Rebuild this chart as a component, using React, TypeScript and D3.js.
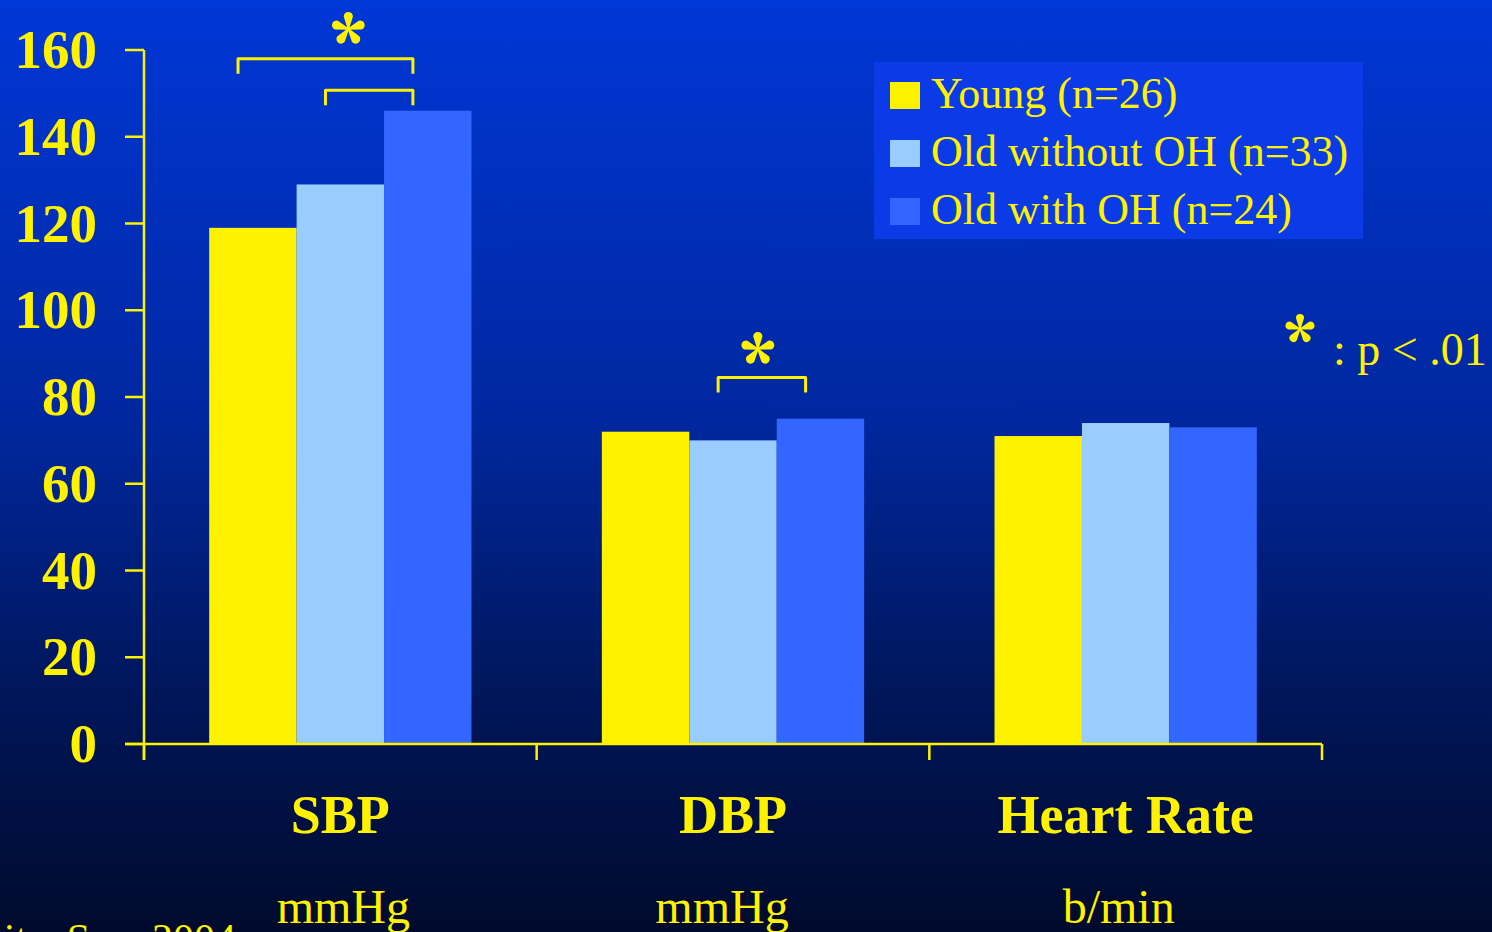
import React, { useEffect, useRef } from "react";
import * as d3 from "d3";

// Haemodynamic values per measure and group
const categories = ["SBP", "DBP", "Heart Rate"];
const units = ["mmHg", "mmHg", "b/min"];
const seriesNames = ["Young (n=26)", "Old without OH (n=33)", "Old with OH (n=24)"];
const young = [119, 72, 71];
const oldWithoutOH = [129, 70, 74];
const oldWithOH = [146, 75, 73];
const yTicks = [0, 20, 40, 60, 80, 100, 120, 140, 160];

// Significance brackets: measure, first group, second group, bracket level (axis units)
const brackets = [
  { cat: "SBP", from: 0, to: 2, level: 158 },
  { cat: "SBP", from: 1, to: 2, level: 150.7 },
  { cat: "DBP", from: 1, to: 2, level: 84.5 },
];

const W = 1492;
const H = 932;
const YELLOW = "#fff200";
const colors = [YELLOW, "#99ccff", "#3366ff"];
const serif = "'Liberation Serif', 'Times New Roman', serif";
const unitNudge = [3, -11, -7];

function starPath(cx: number, cy: number, r: number) {
  // five teardrop petals meeting at the centre
  const petals: string[] = [];
  for (let i = 0; i < 5; i++) {
    const a = (-90 + i * 72) * (Math.PI / 180);
    const pr = r * 0.27;
    const tipR = r - pr;
    const px = cx + Math.cos(a) * tipR;
    const py = cy + Math.sin(a) * tipR;
    const perp = a + Math.PI / 2;
    const w0 = r * 0.04;
    const bx1 = cx + Math.cos(perp) * w0;
    const by1 = cy + Math.sin(perp) * w0;
    const bx2 = cx - Math.cos(perp) * w0;
    const by2 = cy - Math.sin(perp) * w0;
    const sx1 = px + Math.cos(perp) * pr;
    const sy1 = py + Math.sin(perp) * pr;
    const sx2 = px - Math.cos(perp) * pr;
    const sy2 = py - Math.sin(perp) * pr;
    petals.push(
      `M${bx1},${by1} L${sx1},${sy1} A${pr},${pr} 0 1 0 ${sx2},${sy2} L${bx2},${by2} Z`
    );
  }
  return petals.join(" ");
}

export default function App() {
  const ref = useRef<SVGSVGElement>(null);

  useEffect(() => {
    const svg = d3.select(ref.current);
    svg.selectAll("*").remove();

    const defs = svg.append("defs");
    const grad = defs
      .append("linearGradient")
      .attr("id", "bg")
      .attr("x1", 0)
      .attr("y1", 0)
      .attr("x2", 0)
      .attr("y2", 1);
    grad.append("stop").attr("offset", "0%").attr("stop-color", "#0037d6");
    grad.append("stop").attr("offset", "45%").attr("stop-color", "#00279f");
    grad.append("stop").attr("offset", "75%").attr("stop-color", "#001659");
    grad.append("stop").attr("offset", "100%").attr("stop-color", "#000a2c");

    svg.append("rect").attr("width", W).attr("height", H).attr("fill", "url(#bg)");

    const x0 = 144;
    const x1 = 1322;
    const y = d3.scaleLinear().domain([0, 160]).range([744, 50]);
    const x = d3.scaleBand<string>().domain(categories).range([x0, x1]).padding(0);
    const bw = x.bandwidth();
    const inner = d3
      .scaleBand<number>()
      .domain([0, 1, 2])
      .range([bw * 0.166, bw * 0.834])
      .padding(0);

    const seriesValues = [young, oldWithoutOH, oldWithOH];

    // bars
    const g = svg.append("g");
    seriesValues.forEach((vals, si) => {
      g.selectAll(`.bar${si}`)
        .data(vals)
        .enter()
        .append("rect")
        .attr("x", (_d, i) => (x(categories[i]) as number) + (inner(si) as number))
        .attr("y", (d) => y(d))
        .attr("width", inner.bandwidth())
        .attr("height", (d) => y(0) - y(d))
        .attr("fill", colors[si]);
    });

    // axes
    const axis = svg.append("g").attr("stroke", YELLOW).attr("stroke-width", 2.5);
    axis.append("line").attr("x1", x0).attr("x2", x0).attr("y1", y(160)).attr("y2", y(0) + 16);
    axis.append("line").attr("x1", x0 - 19).attr("x2", x1).attr("y1", y(0)).attr("y2", y(0));
    yTicks.forEach((t) => {
      axis.append("line").attr("x1", x0 - 19).attr("x2", x0).attr("y1", y(t)).attr("y2", y(t));
    });
    const bounds = categories.map((c) => x(c) as number).concat([x1]);
    bounds.forEach((bx) => {
      axis.append("line").attr("x1", bx).attr("x2", bx).attr("y1", y(0)).attr("y2", y(0) + 16);
    });

    svg
      .append("g")
      .selectAll("text")
      .data(yTicks)
      .enter()
      .append("text")
      .attr("x", 97)
      .attr("y", (d) => y(d) + 18)
      .attr("text-anchor", "end")
      .attr("font-family", serif)
      .attr("font-weight", "bold")
      .attr("font-size", 55)
      .attr("fill", YELLOW)
      .text((d) => d);

    // category labels and units
    categories.forEach((c, i) => {
      const cx = (x(c) as number) + bw / 2;
      svg
        .append("text")
        .attr("x", cx)
        .attr("y", 833)
        .attr("text-anchor", "middle")
        .attr("font-family", serif)
        .attr("font-weight", "bold")
        .attr("font-size", 54)
        .attr("fill", YELLOW)
        .text(c);
      svg
        .append("text")
        .attr("x", cx + unitNudge[i])
        .attr("y", 923)
        .attr("text-anchor", "middle")
        .attr("font-family", serif)
        .attr("font-size", 48)
        .attr("fill", YELLOW)
        .text(units[i]);
    });

    // significance brackets
    const bx = (cat: string, si: number) =>
      (x(cat) as number) + (inner(si) as number) + inner.bandwidth() * 0.33;
    brackets.forEach((b) => {
      const xa = bx(b.cat, b.from);
      const xb = bx(b.cat, b.to);
      const yy = y(b.level);
      svg
        .append("path")
        .attr("d", `M${xa},${yy + 15} L${xa},${yy} L${xb},${yy} L${xb},${yy + 15}`)
        .attr("fill", "none")
        .attr("stroke", YELLOW)
        .attr("stroke-linejoin", "round")
        .attr("stroke-width", 3);
    });
    const sbpStarX = (x("SBP") as number) + bw / 2 + 8;
    const dbpStarX = (bx("DBP", 1) + bx("DBP", 2)) / 2 - 4;
    svg.append("path").attr("d", starPath(sbpStarX, 29, 17)).attr("fill", YELLOW);
    svg.append("path").attr("d", starPath(dbpStarX, 349, 17)).attr("fill", YELLOW);

    // p-value note
    svg.append("path").attr("d", starPath(1300, 329, 15)).attr("fill", YELLOW);
    svg
      .append("text")
      .attr("x", 1333)
      .attr("y", 365)
      .attr("font-family", serif)
      .attr("font-size", 46)
      .attr("fill", YELLOW)
      .text(": p < .01");

    // legend
    const lg = svg.append("g");
    lg.append("rect")
      .attr("x", 874)
      .attr("y", 62)
      .attr("width", 489)
      .attr("height", 177)
      .attr("fill", "#0a3be6");
    seriesNames.forEach((name, i) => {
      const base = 108 + i * 58;
      lg.append("rect")
        .attr("x", 890)
        .attr("y", base - 26)
        .attr("width", 30)
        .attr("height", 27)
        .attr("fill", colors[i]);
      lg.append("text")
        .attr("x", 931)
        .attr("y", base)
        .attr("font-family", serif)
        .attr("font-size", 44)
        .attr("fill", YELLOW)
        .text(name);
    });

    // source line, running off the bottom edge
    svg
      .append("text")
      .attr("x", 236)
      .attr("y", 953)
      .attr("text-anchor", "end")
      .attr("font-family", serif)
      .attr("font-size", 42)
      .attr("fill", YELLOW)
      .text("Lipsitz, Sem 2004");
  }, []);

  return (
    <div style={{ position: "fixed", left: 0, top: 0, width: W, height: H, overflow: "hidden" }}>
      <svg ref={ref} width={W} height={H} style={{ display: "block" }} />
    </div>
  );
}
